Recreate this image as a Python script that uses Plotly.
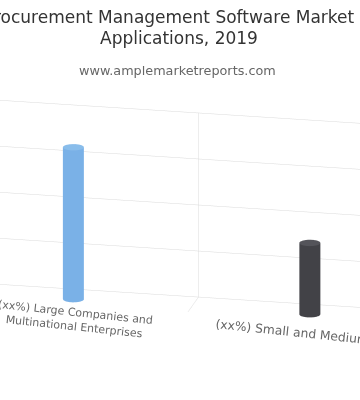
import math
import numpy as np
import plotly.graph_objects as go

# ---- data ----
categories = ["(xx%) Large Companies and<br>Multinational Enterprises",
              "(xx%) Small and Medium Enterprises"]
values = [66, 31]
bar_colors = ["#7cb5ec", "#434348"]
top_colors = ["#8cc1f0", "#56565c"]
z_ticks = [0, 20, 40, 60, 80]

title_line1 = "Procurement Management Software Market by"
title_line2 = "Applications, 2019"
subtitle = "www.amplemarketreports.com"

# ---- scene geometry (world units) ----
K_SCALE = 1 / 1.036
AX, AY, AZ = 2.504 * K_SCALE, 0.2615 * K_SCALE, 1.0 * K_SCALE
R_WORLD = 0.0544 * K_SCALE
rx = R_WORLD / (AX / 2.0)     # radius in x data units (x range width 2)
ry = R_WORLD / AY              # radius in y data units (y range width 1)
BAR_DEPTH_POS = 0.35           # depth position of the columns (0 = front, 1 = back wall)

fig = go.Figure()
N = 64
th = np.linspace(0, 2 * np.pi, N, endpoint=False)
for i, (v, c, tc) in enumerate(zip(values, bar_colors, top_colors)):
    cx, cy = i, BAR_DEPTH_POS
    xs = cx + rx * np.cos(th)
    ys = cy + ry * np.sin(th)
    X = np.concatenate([xs, xs, xs, [cx], xs, [cx]])
    Y = np.concatenate([ys, ys, ys, [cy], ys, [cy]])
    Z = np.concatenate([np.zeros(N), np.full(N, v), np.full(N, v), [v], np.zeros(N), [0]])
    I, J, K, FC = [], [], [], []
    for k in range(N):
        k2 = (k + 1) % N
        I += [k, k2]; J += [k2, N + k2]; K += [N + k, N + k]
        FC += [c, c]
    tc0, tcen = 2 * N, 3 * N
    for k in range(N):
        k2 = (k + 1) % N
        I.append(tc0 + k); J.append(tc0 + k2); K.append(tcen); FC.append(tc)
    bc0, bcen = 3 * N + 1, 4 * N + 1
    for k in range(N):
        k2 = (k + 1) % N
        I.append(bc0 + k); J.append(bc0 + k2); K.append(bcen); FC.append(c)
    fig.add_trace(go.Mesh3d(
        x=X, y=Y, z=Z, i=I, j=J, k=K, facecolor=FC, flatshading=False,
        lighting=dict(ambient=0.98, diffuse=0.08, specular=0.0, roughness=1.0, fresnel=0.0),
        lightposition=dict(x=-3000, y=-10000, z=3000),
        hoverinfo="skip", showscale=False))

# ---- camera (orthographic) ----
yaw, pitch, dist = math.radians(12), math.radians(17.5), 2.6
f = (-math.sin(yaw) * math.cos(pitch), math.cos(yaw) * math.cos(pitch), -math.sin(pitch))
center = (-0.0900 * K_SCALE - 0.0075, AY / 2.0, 0.0208 * K_SCALE)
eye = tuple(center[j] - dist * f[j] for j in range(3))

grid = "#dadada"
axis_common = dict(showbackground=False, zeroline=False, showline=False, ticks="",
                   showticklabels=False, showspikes=False, title=dict(text=""),
                   gridcolor=grid, gridwidth=1)

font_family = "DejaVu Sans"
fig.update_layout(
    width=360, height=400,
    margin=dict(l=0, r=0, t=0, b=0),
    paper_bgcolor="white",
    showlegend=False,
    scene=dict(
        domain=dict(x=[0, 1], y=[0, 1]),
        bgcolor="white",
        aspectmode="manual",
        aspectratio=dict(x=AX, y=AY, z=AZ),
        xaxis=dict(range=[-0.5, 1.5], tickvals=[0.5], showgrid=True, **axis_common),
        yaxis=dict(range=[0, 1], tickvals=[], showgrid=False, **axis_common),
        zaxis=dict(range=[0, 80], tickvals=z_ticks, showgrid=True, **axis_common),
        camera=dict(eye=dict(x=eye[0], y=eye[1], z=eye[2]),
                    center=dict(x=center[0], y=center[1], z=center[2]),
                    up=dict(x=0, y=0, z=1),
                    projection=dict(type="orthographic")),
        annotations=[
            dict(x=0, y=0, z=0, text=categories[0], showarrow=False, textangle=6,
                 font=dict(family=font_family, size=11, color="#666666"),
                 xshift=5.5, yshift=-15),
            dict(x=1, y=0, z=0, text=categories[1], showarrow=False, textangle=6,
                 font=dict(family=font_family, size=12.3, color="#666666"),
                 xshift=23, yshift=-17),
        ],
    ),
    annotations=[
        dict(text=title_line1, x=0.5056, y=1 - 17.5 / 400, xref="paper", yref="paper",
             showarrow=False, xanchor="center", yanchor="middle",
             font=dict(family=font_family, size=17, color="#333333")),
        dict(text=title_line2, x=0.497, y=1 - 38 / 400, xref="paper", yref="paper",
             showarrow=False, xanchor="center", yanchor="middle",
             font=dict(family=font_family, size=17, color="#333333")),
        dict(text=subtitle, x=0.494, y=1 - 70 / 400, xref="paper", yref="paper",
             showarrow=False, xanchor="center", yanchor="middle",
             font=dict(family=font_family, size=12.8, color="#666666")),
    ],
)

fig.write_html("out.html", config={"displayModeBar": False},
               post_script="document.body.style.margin='0px';")
